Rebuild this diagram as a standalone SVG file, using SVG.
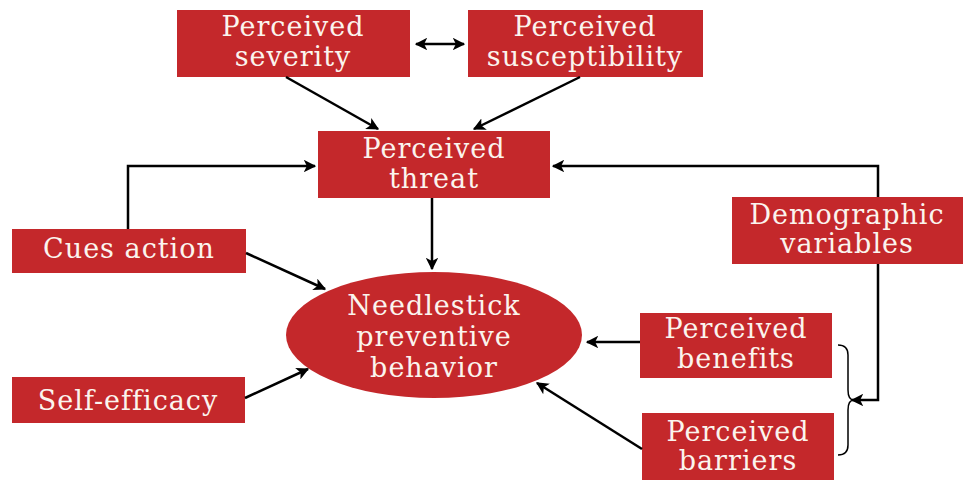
<svg xmlns="http://www.w3.org/2000/svg" width="963" height="483" viewBox="0 0 963 483">
<style>
.box{fill:#C4282B;}
.t{font-family:"DejaVu Serif","Liberation Serif",serif;font-size:27px;letter-spacing:1px;fill:#FBF4EE;text-anchor:middle;}
.c{stroke:#000;stroke-width:2.5;fill:none;}
</style>
<defs>
<marker id="ah" viewBox="0 0 10 10" refX="9" refY="5" markerWidth="5" markerHeight="5" orient="auto-start-reverse">
<path d="M0,0 L10,5 L0,10 L2.5,5 z" fill="#000"/>
</marker>
</defs>
<rect width="963" height="483" fill="#fff"/>
<g id="severity">
<rect class="box" x="177" y="10" width="233" height="67"/>
<text class="t" x="293" y="36">Perceived</text>
<text class="t" x="293" y="66">severity</text>
</g>
<g id="susceptibility">
<rect class="box" x="468" y="10" width="235" height="67"/>
<text class="t" x="585" y="36">Perceived</text>
<text class="t" x="585" y="66">susceptibility</text>
</g>
<g id="threat">
<rect class="box" x="318" y="131" width="232" height="67"/>
<text class="t" x="434" y="158">Perceived</text>
<text class="t" x="434" y="188">threat</text>
</g>
<g id="cues">
<rect class="box" x="12" y="229" width="234" height="44"/>
<text class="t" x="129" y="258">Cues action</text>
</g>
<g id="behavior">
<ellipse class="box" cx="434" cy="335" rx="148" ry="63"/>
<text class="t" x="434" y="315">Needlestick</text>
<text class="t" x="434" y="346">preventive</text>
<text class="t" x="434" y="377">behavior</text>
</g>
<g id="selfefficacy">
<rect class="box" x="12" y="377" width="233" height="46"/>
<text class="t" x="128" y="410">Self-efficacy</text>
</g>
<g id="demographic">
<rect class="box" x="732" y="197" width="231" height="67"/>
<text class="t" x="847" y="224">Demographic</text>
<text class="t" x="847" y="253">variables</text>
</g>
<g id="benefits">
<rect class="box" x="640" y="313" width="192" height="65"/>
<text class="t" x="736" y="338">Perceived</text>
<text class="t" x="736" y="368">benefits</text>
</g>
<g id="barriers">
<rect class="box" x="642" y="413" width="192" height="67"/>
<text class="t" x="738" y="441">Perceived</text>
<text class="t" x="738" y="470">barriers</text>
</g>
<g id="connectors">
<path class="c" d="M416,44 H464" marker-start="url(#ah)" marker-end="url(#ah)"/>
<path class="c" d="M286,77 L378,129" marker-end="url(#ah)"/>
<path class="c" d="M580,77 L474,129" marker-end="url(#ah)"/>
<path class="c" d="M128,229 V166 H315" marker-end="url(#ah)"/>
<path class="c" d="M878,197 V166 H553" marker-end="url(#ah)"/>
<path class="c" d="M432,198 V269" marker-end="url(#ah)"/>
<path class="c" d="M246,253 L325,289" marker-end="url(#ah)"/>
<path class="c" d="M245,398 L308,369" marker-end="url(#ah)"/>
<path class="c" d="M640,342 H587" marker-end="url(#ah)"/>
<path class="c" d="M642,449 L537,383" marker-end="url(#ah)"/>
<path class="c" d="M878,264 V400 H852" marker-end="url(#ah)"/>
<path d="M838,345 Q848,345 848,355 V390 Q848,400 854,400 Q848,400 848,410 V445 Q848,455 838,455" fill="none" stroke="#000" stroke-width="1.5"/>
</g>
</svg>
